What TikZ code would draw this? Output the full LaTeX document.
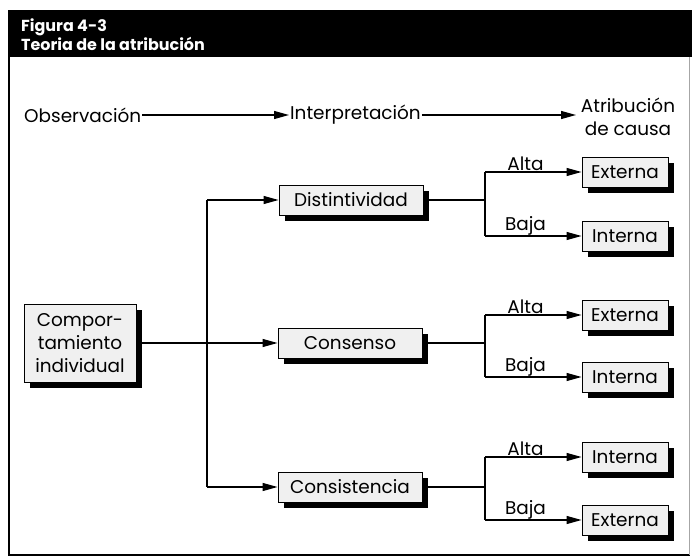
\documentclass[tikz,border=0pt]{standalone}
\usepackage{fontspec}
\setmainfont{Poppins}
\usetikzlibrary{arrows.meta,shadows}
\tikzset{
  box/.style={draw=black, line width=0.9bp, fill=gray!12, inner sep=0pt, minimum height=30bp,
     drop shadow={shadow xshift=6bp, shadow yshift=-6bp, fill=black, opacity=1}, font=\fontsize{18.5}{22}\selectfont},
  rbox/.style={box, minimum width=86bp},
  mbox/.style={box, minimum width=144bp},
  conn/.style={line width=1.2bp},
  arr/.style={conn, -{Triangle[length=15bp,width=8bp]}},
  lbl/.style={font=\fontsize{18.5}{22}\selectfont, inner sep=0.5bp},
  hdr/.style={font=\fontsize{18.5}{22}\selectfont, inner sep=1bp}
}
\begin{document}
\begin{tikzpicture}[x=1bp,y=-1bp]
\useasboundingbox (0,0) rectangle (692,559);
% title bar and frame
\fill[black] (8,10) rectangle (692,57);
\draw[line width=1.5bp] (9,57) -- (9,555) -- (690,555);
\draw[line width=0.8bp, gray!70] (689,57) -- (689,555);
\node[anchor=west, text=white, font=\bfseries\fontsize{16}{16}\selectfont, align=left, inner sep=0pt] (title) at (21,35) {Figura 4-3\\Teoria de la atribución};
% header
\node[hdr, anchor=west] (obs) at (23,115) {Observación};
\node[hdr, anchor=west] (int) at (289,115) {Interpretación};
\node[hdr, align=center, inner sep=0pt, font=\fontsize{18.5}{23}\selectfont] (atr) at (628,117) {Atribución\\de causa};
\draw[arr] (obs.east) -- (int.west);
\draw[arr] (int.east) -- (int.east -| 576,0);
% boxes
\node[box, minimum width=112bp, minimum height=78bp, align=center, font=\fontsize{18.5}{23}\selectfont] (comp) at (80,343) {Compor-\\tamiento\\individual};
\node[mbox] (dist) at (351,200) {Distintividad};
\node[mbox] (cons) at (350,343) {Consenso};
\node[mbox] (cst) at (350,487) {Consistencia};
\node[rbox] (e1) at (625,172) {Externa};
\node[rbox] (i1) at (625,236) {Interna};
\node[rbox] (e2) at (625,315) {Externa};
\node[rbox] (i2) at (625,377) {Interna};
\node[rbox] (i3) at (625,457) {Interna};
\node[rbox] (e3) at (625,520) {Externa};
% left connectors
\coordinate (j) at (207,0);
\draw[conn] (j |- dist) -- (j |- cst);
\draw[arr] (j |- dist) -- (dist.west);
\draw[arr] (j |- cst) -- (cst.west);
\draw[arr] (comp.east) -- (cons.west);
% right branches
\coordinate (b) at (485,0);
\draw[conn] (dist.east) -- (b |- dist);
\draw[conn] (b |- e1) -- (b |- i1);
\draw[arr] (b |- e1) -- node[lbl, above, pos=0.42] {Alta} (e1.west);
\draw[arr] (b |- i1) -- node[lbl, above, pos=0.42] {Baja} (i1.west);
\draw[conn] (cons.east) -- (b |- cons);
\draw[conn] (b |- e2) -- (b |- i2);
\draw[arr] (b |- e2) -- node[lbl, above, pos=0.42] {Alta} (e2.west);
\draw[arr] (b |- i2) -- node[lbl, above, pos=0.42] {Baja} (i2.west);
\draw[conn] (cst.east) -- (b |- cst);
\draw[conn] (b |- i3) -- (b |- e3);
\draw[arr] (b |- i3) -- node[lbl, above, pos=0.42] {Alta} (i3.west);
\draw[arr] (b |- e3) -- node[lbl, above, pos=0.42] {Baja} (e3.west);
\end{tikzpicture}
\end{document}
